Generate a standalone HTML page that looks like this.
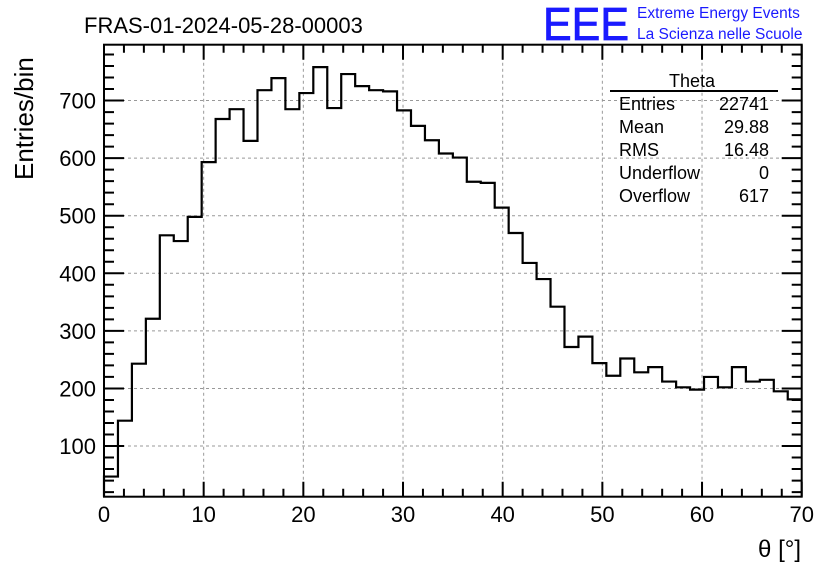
<!DOCTYPE html>
<html><head><meta charset="utf-8"><style>
body{margin:0;background:#fff;}
svg{display:block;font-family:"Liberation Sans","DejaVu Sans",sans-serif;}
</style></head><body>
<svg id="c" width="836" height="572" viewBox="0 0 836 572">
<rect width="836" height="572" fill="#fff"/>
<text x="84" y="33" font-size="22">FRAS-01-2024-05-28-00003</text>
<text x="543" y="40" font-size="46" fill="#1a1aff" stroke="#1a1aff" stroke-width="0.8" textLength="86" lengthAdjust="spacingAndGlyphs">EEE</text>
<text x="637" y="18" font-size="15.5" fill="#1a1aff">Extreme Energy Events</text>
<text x="637" y="39" font-size="15.5" fill="#1a1aff">La Scienza nelle Scuole</text>
<g id="grid"></g><g id="ticks"></g><g id="hist"></g>
<rect x="104" y="44.7" width="697.7" height="452" fill="none" stroke="#000" stroke-width="2"/>
<g font-size="18">
<text x="692" y="87" text-anchor="middle">Theta</text>
<line x1="610" y1="91" x2="778" y2="91" stroke="#000" stroke-width="2"/>
<text x="619" y="110">Entries</text><text x="769" y="110" text-anchor="end">22741</text>
<text x="619" y="133">Mean</text><text x="769" y="133" text-anchor="end">29.88</text>
<text x="619" y="156">RMS</text><text x="769" y="156" text-anchor="end">16.48</text>
<text x="619" y="179">Underflow</text><text x="769" y="179" text-anchor="end">0</text>
<text x="619" y="202">Overflow</text><text x="769" y="202" text-anchor="end">617</text>
</g>
<text transform="translate(33,180) rotate(-90)" font-size="26">Entries/bin</text>
<text x="801" y="557" font-size="24" text-anchor="end">θ [°]</text>
</svg>
<script>
const counts=[47,144,243,321,466,456,498,593,668,685,630,718,739,685,713,758,687,746,725,718,716,683,656,631,608,601,559,557,514,470,418,390,342,272,290,244,222,252,228,237,212,202,198,220,202,237,212,215,195,181];
const binLow=0, binHigh=70;
const xTicks=[0,10,20,30,40,50,60,70];
const yTicks=[100,200,300,400,500,600,700];
const L=104,R=801.7,T=44.7,B=496.7,yMin=12,yMax=797;
const NS='http://www.w3.org/2000/svg';
const X=v=>L+(v-binLow)/(binHigh-binLow)*(R-L);
const Y=v=>B-(v-yMin)/(yMax-yMin)*(B-T);
function mk(tag,a,parent){const e=document.createElementNS(NS,tag);for(const k in a)e.setAttribute(k,a[k]);document.getElementById(parent).appendChild(e);return e;}
xTicks.forEach(t=>{
 if(t>binLow&&t<binHigh){const g=mk('line',{x1:X(t),x2:X(t),y1:T,y2:B,stroke:'#999','stroke-dasharray':'3,3','stroke-width':1},'grid');
 
 }
 const tx=mk('text',{x:X(t),y:522,'font-size':22,'text-anchor':'middle'},'ticks');tx.textContent=t;
 
 
});
yTicks.forEach(t=>{
 const g=mk('line',{x1:L,x2:R,y1:Y(t),y2:Y(t),stroke:'#999','stroke-dasharray':'3,3','stroke-width':1},'grid');
 
 
 const tx=mk('text',{x:96,y:Y(t)+8,'font-size':22,'text-anchor':'end'},'ticks');tx.textContent=t;
 
 
});
let d='';
for(let v=binLow;v<=binHigh;v+=2){const maj=v%10===0,len=maj?15:8,x=X(v);d+=`M${x},${B}V${B-len}M${x},${T}V${T+len}`;}
for(let v=20;v<=yMax;v+=20){const maj=v%100===0,len=maj?20:10,y=Y(v);d+=`M${L},${y}H${L+len}M${R},${y}H${R-len}`;}
const tk=mk('path',{d:d,stroke:'#000','stroke-width':2,fill:'none'},'ticks');


const w=(binHigh-binLow)/counts.length;
let p='';
counts.forEach((c,i)=>{const x0=X(binLow+i*w),x1=X(binLow+(i+1)*w),y=Y(c);p+=(i===0?`M${x0},${B}V${y}`:`V${y}`)+`H${x1}`;});
const h=mk('path',{d:p,stroke:'#000','stroke-width':2.2,fill:'none'},'hist');


</script>
</body></html>
